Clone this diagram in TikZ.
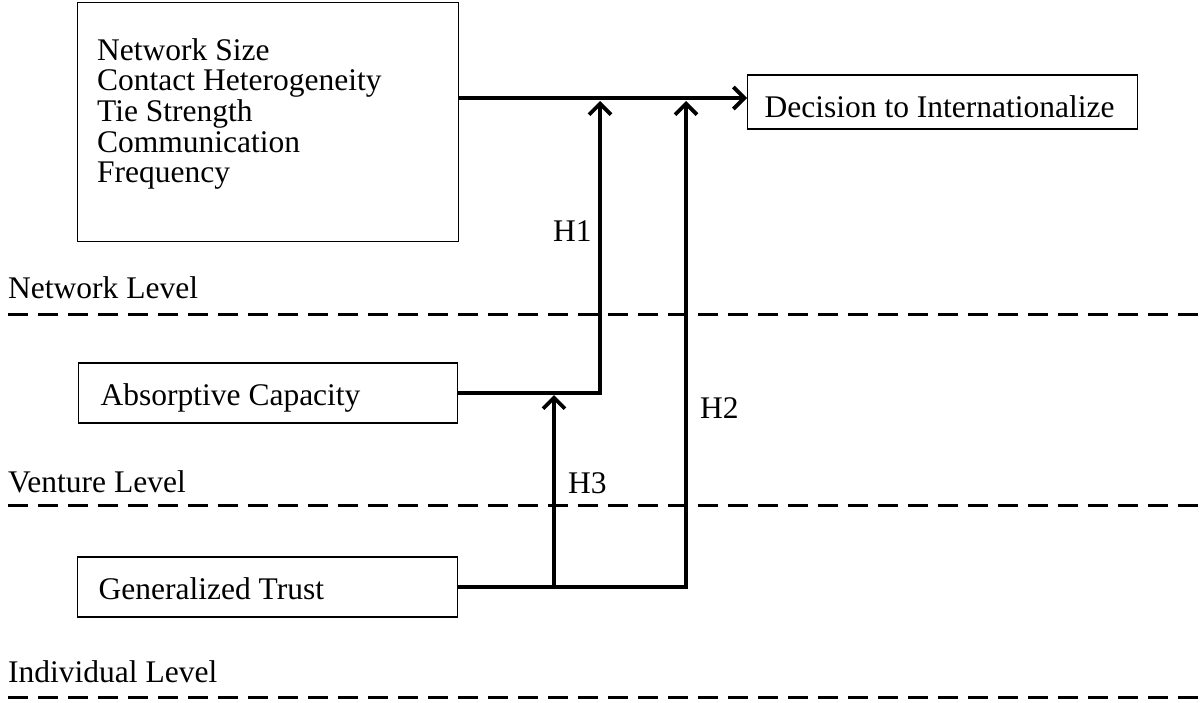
\documentclass[tikz,border=0pt]{standalone}
\usepackage{fontspec}
\setmainfont{Liberation Serif}
\usetikzlibrary{arrows.meta}
\newcommand{\figfont}{\fontsize{31.5pt}{30.7pt}\selectfont}

\begin{document}
\begin{tikzpicture}[x=1pt,y=-1pt,>={Straight Barb[length=11pt,width=22pt]},
		every node/.style={font=\figfont},
		factor/.style={draw=black,line width=1.3pt,anchor=west,align=flush left,inner ysep=0pt,minimum height=60pt,text height=27pt,text depth=3pt},
		link/.style={line width=3.8pt},
		level/.style={line width=3pt,dash pattern=on 20pt off 10pt}]
		\useasboundingbox (0,0) rectangle (1204,702);

		% Network level
		\node at (77,2) (net) [draw=black,line width=1.3pt,anchor=north west,minimum width=381pt,minimum height=239pt] {};
		\node at (97,38) (netvars) [anchor=north west,inner sep=0pt,align=flush left] {Network Size\\Contact Heterogeneity\\Tie Strength\\Communication\\Frequency};
		\node at (747,102) (dec) [factor,minimum height=54pt,text height=30pt,text depth=0pt,inner xsep=17pt,text width=356pt] {Decision to Internationalize};
		\node at (8,298) (lvlnet) [anchor=base west,inner sep=0pt] {Network Level};
		\draw [level] (8,314) -- (1198,314);

		% Venture level
		\node at (78,393) (absorb) [factor,inner xsep=22pt,text width=335pt] {Absorptive Capacity};
		\node at (8,492) (lvlven) [anchor=base west,inner sep=0pt] {Venture Level};
		\draw [level] (8,505) -- (1198,505);

		% Individual level
		\node at (77,587) (trust) [factor,inner xsep=21pt,text width=338pt] {Generalized Trust};
		\node at (8,682) (lvlind) [anchor=base west,inner sep=0pt] {Individual Level};
		\draw [level] (8,697) -- (1198,697);

		% junctions on the paths
		\coordinate (out) at (458,98);
		\coordinate (j1) at (600,101);
		\coordinate (j2) at (686,101);
		\coordinate (j3) at (554,395);

		% connectors
		\draw [link,->] (out) -- (dec.west |- out);
		\draw [link,->] (absorb.east) -| (j1);
		\draw [link,->] (trust.east) -| (j2);
		\draw [link,->] (j3 |- trust.east) -- (j3);

		% hypotheses
		\node at (553,241) (h1) [anchor=base west,inner sep=0pt] {H1};
		\node at (700,418) (h2) [anchor=base west,inner sep=0pt] {H2};
		\node at (568,493) (h3) [anchor=base west,inner sep=0pt] {H3};

	\end{tikzpicture}
\end{document}
